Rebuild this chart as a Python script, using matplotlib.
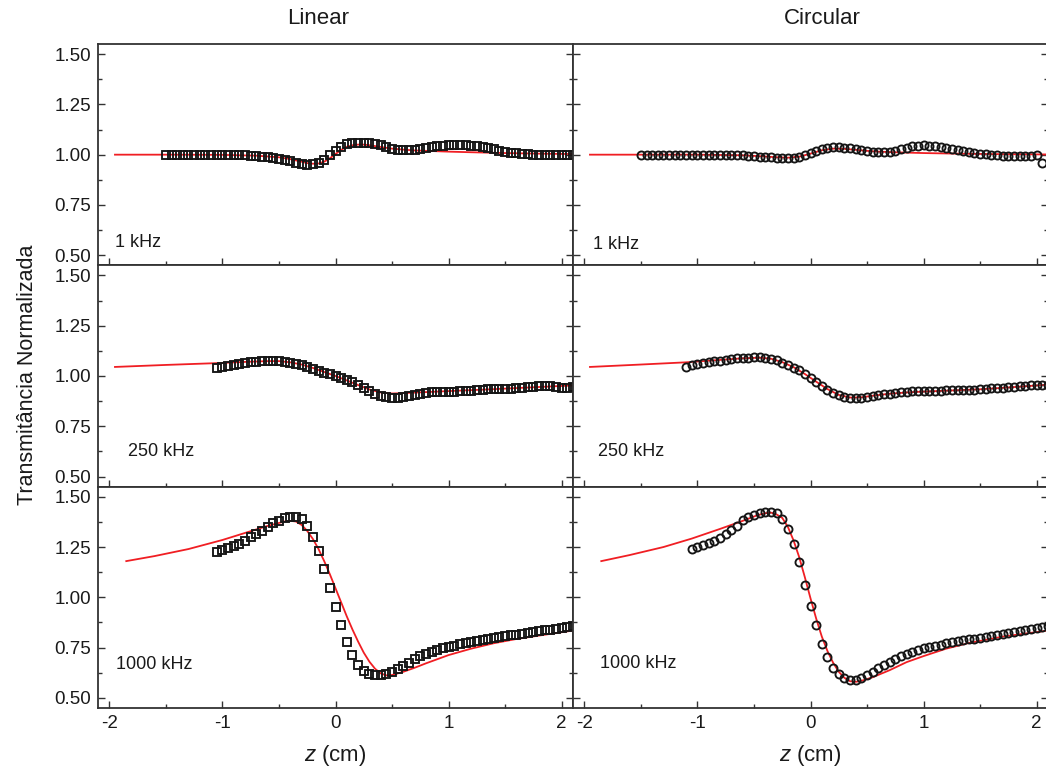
import numpy as np
import matplotlib
matplotlib.use("Agg")
import matplotlib.pyplot as plt
from matplotlib.ticker import MultipleLocator, FormatStrFormatter

plt.rcParams['font.family'] = ['Liberation Sans', 'DejaVu Sans']
plt.rcParams['axes.unicode_minus'] = False
plt.rcParams['mathtext.fontset'] = 'custom'
plt.rcParams['mathtext.it'] = 'Liberation Sans:italic'
plt.rcParams['mathtext.rm'] = 'Liberation Sans'

# ---------------- data ----------------
# z positions of the measured points (cm), 0.05 cm steps
z_lin_1k = np.round(np.arange(-1.50, 2.101, 0.05), 2)
T_lin_1k = [1.000, 1.000, 1.000, 1.000, 1.000, 1.000, 1.000, 1.000, 0.999, 0.999,
            0.999, 0.998, 0.998, 0.997, 0.996, 0.995, 0.993, 0.990, 0.987, 0.984,
            0.980, 0.974, 0.967, 0.961, 0.955, 0.951, 0.952, 0.960, 0.975, 0.997,
            1.020, 1.040, 1.051, 1.056, 1.058, 1.058, 1.056, 1.052, 1.046, 1.038,
            1.030, 1.024, 1.021, 1.021, 1.024, 1.028, 1.033, 1.038, 1.042, 1.044,
            1.046, 1.047, 1.047, 1.046, 1.044, 1.041, 1.036, 1.031, 1.026, 1.020,
            1.015, 1.010, 1.006, 1.003, 1.001, 1.000, 0.999, 0.998, 0.998, 0.997,
            0.997, 0.996, 0.996]

z_cir_1k = np.round(np.arange(-1.50, 2.051, 0.05), 2)
T_cir_1k = [1.000, 1.000, 1.000, 1.000, 1.000, 1.000, 1.000, 1.000, 1.000, 1.000,
            1.000, 1.000, 1.000, 1.000, 0.999, 0.999, 0.998, 0.997, 0.996, 0.994,
            0.992, 0.990, 0.988, 0.986, 0.984, 0.983, 0.983, 0.985, 0.990, 0.998,
            1.008, 1.020, 1.030, 1.035, 1.037, 1.037, 1.035, 1.031, 1.027, 1.023,
            1.019, 1.015, 1.013, 1.013, 1.014, 1.018, 1.026, 1.035, 1.041, 1.045,
            1.046, 1.045, 1.042, 1.038, 1.033, 1.028, 1.023, 1.018, 1.013, 1.008,
            1.005, 1.002, 0.999, 0.997, 0.995, 0.993, 0.991, 0.991, 0.992, 0.995,
            0.998, 0.958]

z_lin_250k = np.round(np.arange(-1.05, 2.101, 0.05), 2)
T_lin_250k = [1.038, 1.045, 1.052, 1.057, 1.062, 1.066, 1.069, 1.072, 1.074, 1.075,
              1.075, 1.074, 1.071, 1.067, 1.061, 1.053, 1.044, 1.035, 1.026, 1.017,
              1.008, 0.999, 0.990, 0.980, 0.968, 0.955, 0.941, 0.926, 0.912, 0.902,
              0.896, 0.893, 0.893, 0.895, 0.900, 0.907, 0.913, 0.916, 0.918, 0.919,
              0.920, 0.921, 0.922, 0.923, 0.925, 0.927, 0.929, 0.931, 0.933, 0.934,
              0.935, 0.936, 0.937, 0.939, 0.941, 0.944, 0.947, 0.950, 0.952, 0.951,
              0.944, 0.940, 0.941, 0.946]

z_cir_250k = np.round(np.arange(-1.10, 2.101, 0.05), 2)
T_cir_250k = [1.047, 1.053, 1.058, 1.063, 1.068, 1.073, 1.077, 1.081, 1.084, 1.087,
              1.089, 1.091, 1.092, 1.093, 1.091, 1.086, 1.078, 1.067, 1.055, 1.042,
              1.028, 1.010, 0.990, 0.970, 0.950, 0.932, 0.916, 0.904, 0.895, 0.891,
              0.889, 0.890, 0.894, 0.899, 0.904, 0.909, 0.913, 0.917, 0.920, 0.922,
              0.924, 0.925, 0.926, 0.926, 0.927, 0.927, 0.928, 0.928, 0.929, 0.930,
              0.931, 0.932, 0.934, 0.936, 0.938, 0.940, 0.942, 0.945, 0.947, 0.950,
              0.952, 0.954, 0.955, 0.956, 0.957]

z_lin_1000k = np.round(np.arange(-1.05, 2.101, 0.05), 2)
T_lin_1000k = [1.225, 1.236, 1.247, 1.257, 1.267, 1.282, 1.298, 1.315, 1.332, 1.350,
               1.367, 1.381, 1.392, 1.397, 1.397, 1.388, 1.353, 1.300, 1.228, 1.142,
               1.045, 0.950, 0.863, 0.778, 0.713, 0.663, 0.633, 0.617, 0.612, 0.612,
               0.617, 0.628, 0.642, 0.658, 0.675, 0.692, 0.706, 0.718, 0.730, 0.739,
               0.747, 0.754, 0.760, 0.766, 0.772, 0.778, 0.783, 0.788, 0.792, 0.797,
               0.802, 0.806, 0.811, 0.815, 0.820, 0.824, 0.828, 0.832, 0.836, 0.840,
               0.845, 0.850, 0.854, 0.858]

z_cir_1000k = np.round(np.arange(-1.05, 2.101, 0.05), 2)
T_cir_1000k = [1.238, 1.248, 1.258, 1.268, 1.280, 1.295, 1.315, 1.336, 1.356, 1.383,
               1.400, 1.411, 1.419, 1.424, 1.425, 1.417, 1.387, 1.342, 1.267, 1.175,
               1.063, 0.958, 0.863, 0.770, 0.703, 0.650, 0.617, 0.597, 0.587, 0.587,
               0.600, 0.613, 0.630, 0.647, 0.663, 0.680, 0.695, 0.708, 0.720, 0.730,
               0.738, 0.746, 0.752, 0.758, 0.765, 0.772, 0.779, 0.785, 0.789, 0.791,
               0.793, 0.797, 0.803, 0.809, 0.815, 0.820, 0.825, 0.830, 0.835, 0.840,
               0.845, 0.850, 0.855, 0.858]

# fitted curves (red lines)
zf_lin_1k = [-1.95, -1.5, -1.0, -0.7, -0.5, -0.4, -0.3, -0.25, -0.2, -0.15, -0.1, -0.05,
             0.0, 0.05, 0.1, 0.15, 0.2, 0.25, 0.3, 0.4, 0.5, 0.6, 0.7, 0.8, 1.0, 1.2,
             1.5, 1.8, 2.1]
Tf_lin_1k = [1.000, 1.000, 0.999, 0.995, 0.987, 0.978, 0.965, 0.958, 0.955, 0.956,
             0.965, 0.982, 1.003, 1.024, 1.039, 1.047, 1.050, 1.050, 1.047, 1.038,
             1.030, 1.025, 1.021, 1.019, 1.015, 1.012, 1.008, 1.005, 1.003]

zf_cir_1k = [-1.95, -1.0, -0.6, -0.4, -0.3, -0.2, -0.1, 0.0, 0.1, 0.2, 0.3, 0.4, 0.5,
             0.6, 0.8, 1.0, 1.3, 1.6, 2.1]
Tf_cir_1k = [1.000, 1.000, 0.997, 0.991, 0.987, 0.985, 0.990, 1.005, 1.022, 1.030,
             1.029, 1.024, 1.019, 1.015, 1.011, 1.008, 1.005, 1.003, 1.001]

zf_lin_250k = [-1.95, -1.5, -1.0, -0.8, -0.6, -0.5, -0.4, -0.3, -0.2, -0.1, 0.0, 0.1,
               0.2, 0.3, 0.4, 0.5, 0.6, 0.8, 1.0, 1.3, 1.6, 1.9, 2.1]
Tf_lin_250k = [1.045, 1.055, 1.065, 1.070, 1.074, 1.074, 1.068, 1.057, 1.040, 1.020,
               1.000, 0.978, 0.955, 0.933, 0.918, 0.913, 0.915, 0.920, 0.925, 0.932,
               0.940, 0.948, 0.953]

zf_cir_250k = [-1.95, -1.5, -1.1, -0.8, -0.6, -0.45, -0.35, -0.25, -0.15, -0.05, 0.05,
               0.15, 0.25, 0.35, 0.45, 0.55, 0.7, 0.9, 1.2, 1.5, 1.8, 2.1]
Tf_cir_250k = [1.045, 1.057, 1.068, 1.080, 1.088, 1.091, 1.086, 1.069, 1.044, 1.010,
               0.972, 0.935, 0.906, 0.893, 0.894, 0.902, 0.912, 0.920, 0.927, 0.934,
               0.945, 0.957]

zf_lin_1000k = [-1.85, -1.6, -1.3, -1.0, -0.8, -0.6, -0.45, -0.4, -0.35, -0.3, -0.25,
                -0.2, -0.15, -0.1, -0.05, 0.0, 0.05, 0.1, 0.15, 0.2, 0.25, 0.3, 0.35,
                0.4, 0.45, 0.5, 0.6, 0.7, 0.8, 1.0, 1.2, 1.4, 1.6, 1.8, 2.1]
Tf_lin_1000k = [1.180, 1.205, 1.240, 1.285, 1.320, 1.355, 1.377, 1.380, 1.377, 1.360,
                1.330, 1.290, 1.240, 1.180, 1.115, 1.045, 0.975, 0.905, 0.840, 0.780,
                0.725, 0.680, 0.645, 0.622, 0.612, 0.614, 0.630, 0.650, 0.672, 0.713,
                0.745, 0.772, 0.793, 0.810, 0.835]

zf_cir_1000k = [-1.85, -1.6, -1.3, -1.05, -0.8, -0.6, -0.47, -0.4, -0.35, -0.3, -0.25,
                -0.2, -0.15, -0.1, -0.05, 0.0, 0.05, 0.1, 0.15, 0.2, 0.25, 0.3, 0.35,
                0.4, 0.45, 0.55, 0.7, 0.85, 1.0, 1.2, 1.4, 1.7, 2.1]
Tf_cir_1000k = [1.180, 1.210, 1.250, 1.292, 1.340, 1.380, 1.408, 1.418, 1.421, 1.412,
                1.395, 1.350, 1.283, 1.200, 1.100, 0.995, 0.895, 0.805, 0.733, 0.675,
                0.630, 0.600, 0.583, 0.580, 0.585, 0.603, 0.638, 0.678, 0.708, 0.745,
                0.773, 0.805, 0.835]

freq_labels = ["1 kHz", "250 kHz", "1000 kHz"]
col_titles = ["Linear", "Circular"]

measured = [[(z_lin_1k, T_lin_1k), (z_cir_1k, T_cir_1k)],
            [(z_lin_250k, T_lin_250k), (z_cir_250k, T_cir_250k)],
            [(z_lin_1000k, T_lin_1000k), (z_cir_1000k, T_cir_1000k)]]
fitted = [[(zf_lin_1k, Tf_lin_1k), (zf_cir_1k, Tf_cir_1k)],
          [(zf_lin_250k, Tf_lin_250k), (zf_cir_250k, Tf_cir_250k)],
          [(zf_lin_1000k, Tf_lin_1000k), (zf_cir_1000k, Tf_cir_1000k)]]

# ---------------- layout (pixel based) ----------------
W, H = 1046, 771
fig = plt.figure(figsize=(W / 100, H / 100), dpi=100)

ax_left = [98, 573]
ax_width = 475
top, bottom = 44, 708
row_h = (bottom - top) / 3

label_pos = [[(0.036, 0.105), (0.042, 0.095)],
             [(0.063, 0.16), (0.053, 0.16)],
             [(0.038, 0.195), (0.057, 0.20)]]
markers = ['s', 'o']
spine_col = '#333333'

for r in range(3):
    for c in range(2):
        y_bot = top + (r + 1) * row_h          # pixel row of the panel bottom
        ax = fig.add_axes([ax_left[c] / W, (H - y_bot) / H, ax_width / W, row_h / H])
        zf, Tf = fitted[r][c]
        ax.plot(zf, Tf, color='#f01e23', lw=1.3, zorder=2)
        zm, Tm = measured[r][c]
        ax.plot(zm, Tm, ls='none', marker=markers[c], ms=5.8, mfc='none',
                mec='#151515', mew=1.35, zorder=3, clip_on=False)

        ax.set_xlim(-2.1, 2.1)
        ax.set_ylim(0.45, 1.55)
        ax.xaxis.set_major_locator(MultipleLocator(1))
        ax.xaxis.set_minor_locator(MultipleLocator(0.5))
        ax.yaxis.set_major_locator(MultipleLocator(0.25))
        ax.yaxis.set_minor_locator(MultipleLocator(0.125))
        ax.yaxis.set_major_formatter(FormatStrFormatter('%.2f'))
        ax.xaxis.set_major_formatter(FormatStrFormatter('%d'))
        ax.tick_params(which='both', direction='in', left=True, right=True,
                       top=False, bottom=True, color=spine_col, width=1.0,
                       labelsize=13.5, labelcolor='#1a1a1a', pad=5)
        ax.tick_params(which='major', length=5)
        ax.tick_params(which='minor', length=3)
        for s in ax.spines.values():
            s.set_color(spine_col)
            s.set_linewidth(1.3)
        if c == 1:
            ax.tick_params(labelleft=False)
        if r < 2:
            ax.tick_params(labelbottom=False)
        else:
            ax.set_xlabel(r'$\mathit{z}$ (cm)', fontsize=16, color='#1a1a1a', labelpad=8)

        lx, ly = label_pos[r][c]
        ax.text(lx, ly, freq_labels[r], transform=ax.transAxes, fontsize=13,
                color='#1a1a1a', va='center', ha='left')

fig.text(318 / W, 1 - 18 / H, col_titles[0], fontsize=16, ha='center', va='center',
         color='#1a1a1a')
fig.text(822 / W, 1 - 18 / H, col_titles[1], fontsize=16, ha='center', va='center',
         color='#1a1a1a')
fig.text(28 / W, 1 - 375 / H, 'Transmitância Normalizada', fontsize=15.5,
         rotation=90, ha='center', va='center', color='#1a1a1a')

fig.savefig('out.png', dpi=100)
